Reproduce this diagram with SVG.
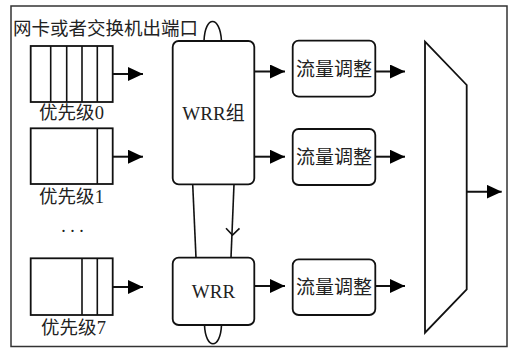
<svg xmlns="http://www.w3.org/2000/svg" width="514" height="350" viewBox="0 0 514 350">
<style>
.frame{fill:#fff;stroke:#333;stroke-width:1.5}
.box{fill:#fff;stroke:#111;stroke-width:1.8}
.ln{fill:none;stroke:#111;stroke-width:1.6}
.arr{fill:none;stroke:#111;stroke-width:2}
.t{font-family:'Liberation Serif','Noto Sans CJK SC',serif;fill:#222}
.c{text-anchor:middle}
</style>
<defs>
<marker id="ah" markerUnits="userSpaceOnUse" markerWidth="15" markerHeight="14" refX="15" refY="7" orient="auto">
<path d="M0,0 L15,7 L0,14 z" fill="#000"/>
</marker>
</defs>
<rect class="frame" x="11" y="6" width="496" height="340.5"/>
<text class="t" x="13" y="35" font-size="18.5">网卡或者交换机出端口</text>

<g id="queue0">
<rect class="box" x="30.7" y="46" width="82" height="56"/>
<path class="ln" d="M50.7,46V102M66.7,46V102M82,46V102M97.3,46V102"/>
<text class="t c" x="71.5" y="119" font-size="18.5">优先级<tspan font-family="Liberation Serif">0</tspan></text>
</g>
<g id="queue1">
<rect class="box" x="30.7" y="128.3" width="82" height="55.7"/>
<path class="ln" d="M97.3,128.3V184"/>
<text class="t c" x="71.5" y="203" font-size="18.5">优先级<tspan font-family="Liberation Serif">1</tspan></text>
</g>
<text class="t c" x="72.5" y="232" font-size="18" font-family="Liberation Serif">. . .</text>
<g id="queue7">
<rect class="box" x="30.7" y="258.3" width="82" height="56.7"/>
<path class="ln" d="M82,258.3V315M97.3,258.3V315"/>
<text class="t c" x="73.5" y="334" font-size="18.5">优先级<tspan font-family="Liberation Serif">7</tspan></text>
</g>

<g id="wrrgroup">
<rect class="box" x="172.7" y="41" width="81.6" height="143.3" rx="6"/>
<text class="t c" x="213.5" y="119.5" font-size="19"><tspan font-family="Liberation Serif">WRR</tspan>组</text>
</g>
<g id="wrr">
<rect class="box" x="172.7" y="257.7" width="81.6" height="67.3" rx="6"/>
<text class="c" x="213.5" y="298" font-size="19" font-family="Liberation Serif" fill="#222">WRR</text>
</g>

<g id="shaper1">
<rect class="box" x="292.7" y="40.7" width="82.6" height="56" rx="6"/>
<text class="t c" x="334" y="75.5" font-size="19">流量调整</text>
</g>
<g id="shaper2">
<rect class="box" x="292.7" y="129" width="82.6" height="56" rx="6"/>
<text class="t c" x="334" y="163.5" font-size="19">流量调整</text>
</g>
<g id="shaper3">
<rect class="box" x="292.7" y="259.3" width="82.6" height="55.7" rx="6"/>
<text class="t c" x="334" y="293.5" font-size="19">流量调整</text>
</g>

<g id="mux">
<polygon class="box" points="425,41.7 466.7,85 466.7,289.3 425,332.7"/>
</g>

<g id="connectors">
<line class="arr" x1="112.7" y1="74" x2="143" y2="74" marker-end="url(#ah)"/>
<line class="arr" x1="112.7" y1="156.7" x2="143" y2="156.7" marker-end="url(#ah)"/>
<line class="arr" x1="112.7" y1="287" x2="143" y2="287" marker-end="url(#ah)"/>
<line class="arr" x1="254.3" y1="71.5" x2="285" y2="71.5" marker-end="url(#ah)"/>
<line class="arr" x1="254.3" y1="156.7" x2="285" y2="156.7" marker-end="url(#ah)"/>
<line class="arr" x1="254.3" y1="286" x2="285" y2="286" marker-end="url(#ah)"/>
<line class="arr" x1="375.3" y1="71.5" x2="405" y2="71.5" marker-end="url(#ah)"/>
<line class="arr" x1="375.3" y1="156.7" x2="405" y2="156.7" marker-end="url(#ah)"/>
<line class="arr" x1="375.3" y1="286" x2="405" y2="286" marker-end="url(#ah)"/>
<line class="arr" x1="466.7" y1="191.7" x2="501.7" y2="191.7" marker-end="url(#ah)"/>
<path class="ln" d="M204,41 C205,15 220,15 221.5,41"/>
<path class="ln" d="M204.5,325 C205.5,350 220.5,350 221.5,325"/>
<path class="ln" d="M192.7,184.3 L196,257.7"/>
<path class="ln" d="M234,184.3 L231,257.7"/>
<path class="ln" d="M226,228.3 L232.5,235 L239.5,228.3"/>
</g>
</svg>
